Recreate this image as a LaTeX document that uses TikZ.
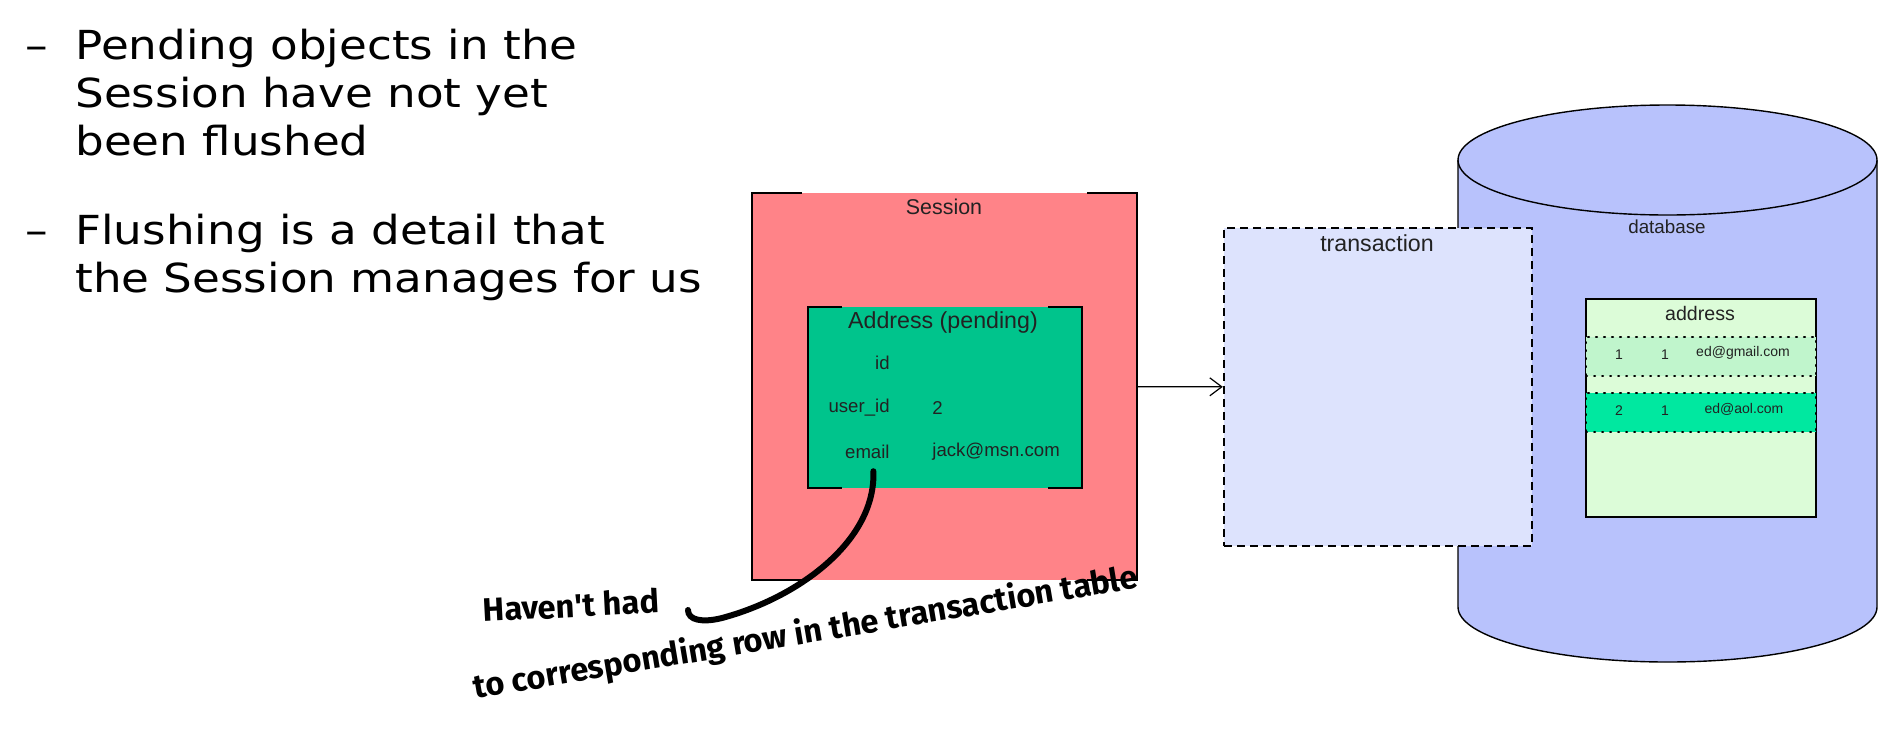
\documentclass[tikz,border=0pt]{standalone}
\usepackage{fontspec}
\setmainfont{Liberation Sans}
\newfontfamily\bulletfont{DejaVu Sans}[FakeStretch=1.13]
\newfontfamily\handfont{Fira Sans}
\usepackage{tikz}
\usetikzlibrary{arrows.meta, positioning, calc}

\definecolor{sessionred}{HTML}{FF8388}
\definecolor{pendinggreen}{HTML}{00C48C}
\definecolor{txblue}{HTML}{DDE3FD}
\definecolor{dbblue}{HTML}{B8C2FC}
\definecolor{tablegreen}{HTML}{DCFCD8}
\definecolor{rowgreen}{HTML}{C0F5CC}
\definecolor{newrowgreen}{HTML}{00E8A0}
\definecolor{ink}{HTML}{222222}

% box with full sides and short corner pieces on top and bottom
\newcommand{\cornerbox}[2]{%
  \draw[boxline] ($(#1.north west)+(#2,0)$) -- (#1.north west) -- (#1.south west) -- ++(#2,0);
  \draw[boxline] ($(#1.north east)-(#2,0)$) -- (#1.north east) -- (#1.south east) -- ++(-#2,0);
}

\begin{document}
\begin{tikzpicture}[
	x=0.5pt, y=-0.5pt,
	sessionbox/.style={rectangle, fill=sessionred, minimum width=192.5pt, minimum height=193.5pt, inner sep=0pt},
	pendingbox/.style={rectangle, fill=pendinggreen, minimum width=137pt, minimum height=90.5pt, inner sep=0pt},
	txbox/.style={rectangle, draw=black, fill=txblue, line width=1.2pt, dash pattern=on 4pt off 2.5pt, minimum width=154pt, minimum height=159pt, inner sep=0pt},
	tablebox/.style={rectangle, draw=black, fill=tablegreen, line width=1pt, minimum width=115pt, minimum height=109pt, inner sep=0pt},
	rowband/.style={rectangle, draw=black, line width=1pt, dash pattern=on 0.6pt off 3.4pt, line cap=round, minimum width=115pt, minimum height=19.5pt, inner sep=0pt},
	boxline/.style={line width=1pt, black},
	dbline/.style={line width=0.7pt, black},
	title/.style={font=\fontsize{11.6}{13}\selectfont, text=ink, inner sep=0pt},
	field/.style={font=\fontsize{9.3}{11}\selectfont, text=ink, inner sep=0pt},
	cell/.style={font=\fontsize{7}{8.5}\selectfont, text=ink, inner sep=0pt},
	edge/.style={-{Straight Barb[length=6pt, width=9pt]}, line width=0.6pt},
	inkline/.style={line width=3pt, line cap=round, black},
	handnote/.style={font=\handfont\bfseries\fontsize{16.3}{19}\selectfont, inner sep=0pt},
	bullettext/.style={font=\bulletfont\fontsize{20}{24}\selectfont, align=left, inner sep=0pt}
]
\useasboundingbox (0,0) rectangle (1890,729);

% Bullets
\node[bullettext, anchor=north west] (bulletA) at (75,29) {\llap{\textendash\hspace{13.5pt}}Pending objects in the\\Session have not yet\\been flushed};
\node[bullettext, anchor=north west] (bulletB) at (75,214) {\llap{\textendash\hspace{13.5pt}}Flushing is a detail that\\the Session manages for us};

% Database
\fill[dbblue] (1458,160) -- (1458,607) arc[start angle=180, end angle=0, x radius=209.5, y radius=55] -- (1877,160) -- cycle;
\draw[dbline] (1458,160) -- (1458,607) arc[start angle=180, end angle=0, x radius=209.5, y radius=55] -- (1877,160);
\draw[dbline, fill=dbblue] (1667.5,160) ellipse [x radius=209.5, y radius=55];
\node[title, font=\fontsize{9.4}{11}\selectfont] (dblabel) at (1667,227) {database};

\node[tablebox] (table) at (1701,408) {};
\node[title, font=\fontsize{9.8}{12}\selectfont] (tablelabel) at (1700,313) {address};
\node[rowband, fill=rowgreen] (rowA) at (1701,356.5) {};
\node[rowband, fill=newrowgreen] (rowB) at (1701,412.5) {};
\node[cell] at (1619,355) {1};
\node[cell] at (1665,355) {1};
\node[cell] at (1743,353) {ed@gmail.com};
\node[cell] at (1619,411) {2};
\node[cell] at (1665,411) {1};
\node[cell] at (1744,409) {ed@aol.com};

% Session
\node[sessionbox] (session) at (944.5,386.5) {};
\cornerbox{session}{50}
\node[title, font=\fontsize{10.7}{13}\selectfont] (sessionlabel) at (944,207) {Session};

\node[pendingbox] (pending) at (945,397.5) {};
\cornerbox{pending}{34}
\node[title] (pendinglabel) at (943,322) {Address (pending)};
\node[field, anchor=east] (pid) at (890,363) {id};
\node[field, anchor=east] (puserid) at (890,408) {user\_id};
\node[field, anchor=east] (pemail) at (890,452) {email};
\node[field, anchor=west] (puserval) at (932,408) {2};
\node[field, anchor=west] (pemailval) at (932,452) {jack@msn.com};

% Transaction
\node[txbox] (tx) at (1378,387) {};
\node[title] (txlabel) at (1377,243) {transaction};

\draw[edge] (session) -- (tx);

% Handwritten note
\node[handnote, rotate=3, anchor=base west] (havenote) at (483,622) {Haven't had};
\node[handnote, rotate=9.5, anchor=base west] (corrnote) at (475,699) {to corresponding row in the transaction table};
\coordinate (inkend) at (688,610);
\draw[inkline] ($(pemail.south)+(6,12)$) .. controls (876,540) and (800,597) .. (722,618) .. controls (702,623) and (688,620) .. (inkend);

\end{tikzpicture}
\end{document}
